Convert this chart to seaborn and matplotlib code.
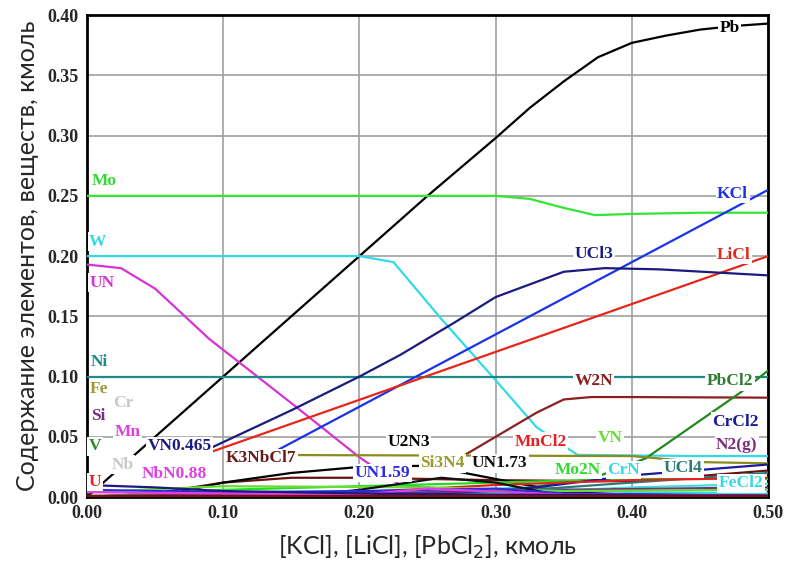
import numpy as np
import pandas as pd
import matplotlib
matplotlib.use("Agg")
import matplotlib.pyplot as plt
import seaborn as sns

# main curves (x in kmol of KCl/LiCl/PbCl2, y in kmol)
pb_x = [0.0, 0.05, 0.10, 0.15, 0.20, 0.25, 0.30, 0.325, 0.35, 0.375, 0.40, 0.425, 0.45, 0.475, 0.50]
pb_y = [0.0, 0.05, 0.10, 0.15, 0.20, 0.25, 0.298, 0.323, 0.345, 0.365, 0.377, 0.383, 0.388, 0.391, 0.393]
mo_x = [0.0, 0.30, 0.325, 0.35, 0.373, 0.40, 0.45, 0.50]
mo_y = [0.25, 0.25, 0.2475, 0.240, 0.234, 0.235, 0.236, 0.236]
w_x = [0.0, 0.20, 0.225, 0.26, 0.30, 0.33, 0.36, 0.45, 0.50]
w_y = [0.20, 0.20, 0.195, 0.148, 0.097, 0.058, 0.035, 0.034, 0.034]
un_x = [0.0, 0.025, 0.05, 0.09, 0.15, 0.20, 0.23, 0.30, 0.50]
un_y = [0.193, 0.19, 0.173, 0.131, 0.078, 0.033, 0.010, 0.003, 0.002]
ni_x = [0.0, 0.50]
ni_y = [0.10, 0.10]
kcl_x = [0.12, 0.50]
kcl_y = [0.027, 0.255]
licl_x = [0.09, 0.50]
licl_y = [0.037, 0.200]
ucl3_x = [0.08, 0.15, 0.20, 0.23, 0.27, 0.30, 0.35, 0.38, 0.42, 0.50]
ucl3_y = [0.035, 0.072, 0.100, 0.118, 0.145, 0.166, 0.187, 0.190, 0.189, 0.184]
w2n_x = [0.27, 0.30, 0.33, 0.35, 0.37, 0.40, 0.50]
w2n_y = [0.030, 0.050, 0.070, 0.081, 0.083, 0.083, 0.0825]
pbcl2_x = [0.20, 0.30, 0.37, 0.41, 0.48, 0.50]
pbcl2_y = [0.0, 0.004, 0.015, 0.032, 0.087, 0.105]

# minor species near the bottom
k3nbcl7_x = [0.0, 0.05, 0.10, 0.15, 0.20, 0.30, 0.40, 0.50]
k3nbcl7_y = [0.0, 0.003, 0.012, 0.016, 0.016, 0.014, 0.013, 0.022]
u2n3_x = [0.05, 0.10, 0.15, 0.20, 0.25, 0.30, 0.35, 0.40, 0.50]
u2n3_y = [0.0, 0.012, 0.020, 0.025, 0.026, 0.015, 0.004, 0.002, 0.001]
si3n4_x = [0.11, 0.40, 0.45, 0.50]
si3n4_y = [0.035, 0.034, 0.029, 0.028]
mo2n_x = [0.0, 0.10, 0.20, 0.30, 0.40, 0.50]
mo2n_y = [0.0, 0.006, 0.009, 0.012, 0.015, 0.015]
crn_x = [0.0, 0.15, 0.25, 0.32, 0.40, 0.50]
crn_y = [0.0, 0.002, 0.004, 0.008, 0.004, 0.003]
ucl4_x = [0.0, 0.20, 0.30, 0.40, 0.50]
ucl4_y = [0.0, 0.001, 0.004, 0.012, 0.020]
fecl2_x = [0.0, 0.20, 0.30, 0.40, 0.50]
fecl2_y = [0.0, 0.001, 0.003, 0.008, 0.011]
crcl2_x = [0.0, 0.25, 0.33, 0.40, 0.50]
crcl2_y = [0.0, 0.002, 0.008, 0.018, 0.027]
n2g_x = [0.0, 0.20, 0.35, 0.50]
n2g_y = [0.001, 0.003, 0.006, 0.008]
mncl2_x = [0.10, 0.20, 0.30, 0.40, 0.50]
mncl2_y = [0.0, 0.004, 0.010, 0.014, 0.016]
vn_x = [0.0, 0.10, 0.25, 0.35, 0.50]
vn_y = [0.004, 0.009, 0.008, 0.005, 0.006]
un173_x = [0.15, 0.20, 0.26, 0.30, 0.34, 0.40, 0.50]
un173_y = [0.0, 0.006, 0.016, 0.012, 0.003, 0.001, 0.001]
un159_x = [0.0, 0.10, 0.20, 0.30, 0.35, 0.50]
un159_y = [0.006, 0.004, 0.005, 0.007, 0.003, 0.001]
nbn088_x = [0.0, 0.10, 0.20, 0.25, 0.35, 0.50]
nbn088_y = [0.004, 0.003, 0.002, 0.007, 0.002, 0.001]
vn0465_x = [0.0, 0.05, 0.10, 0.20, 0.30, 0.50]
vn0465_y = [0.010, 0.008, 0.005, 0.003, 0.002, 0.001]
u_x = [0.0, 0.50]
u_y = [0.001, 0.001]

series = [
    (pb_x, pb_y, "#000000"), (mo_x, mo_y, "#33e633"), (w_x, w_y, "#33d9e6"),
    (un_x, un_y, "#d633d6"), (ni_x, ni_y, "#1f8a8a"), (kcl_x, kcl_y, "#1a33e6"),
    (licl_x, licl_y, "#e6261a"), (ucl3_x, ucl3_y, "#1a1a80"), (w2n_x, w2n_y, "#8a2020"),
    (pbcl2_x, pbcl2_y, "#1f8a1f"),
    (k3nbcl7_x, k3nbcl7_y, "#6b1010"), (u2n3_x, u2n3_y, "#000000"), (si3n4_x, si3n4_y, "#8c8c1e"),
    (mo2n_x, mo2n_y, "#22dd22"), (crn_x, crn_y, "#33d9e6"), (ucl4_x, ucl4_y, "#2a7a7a"),
    (fecl2_x, fecl2_y, "#40e0e0"), (crcl2_x, crcl2_y, "#1a1a9a"), (n2g_x, n2g_y, "#7b2d7b"),
    (mncl2_x, mncl2_y, "#e62020"), (vn_x, vn_y, "#66dd33"), (un173_x, un173_y, "#111111"),
    (un159_x, un159_y, "#2b2be0"), (nbn088_x, nbn088_y, "#e040e0"), (vn0465_x, vn0465_y, "#1a1a80"),
    (u_x, u_y, "#7a1010"),
]

# text labels: (name, x, y, colour)
labels = [
    ("Pb", 0.472, 0.389, "#000000"), ("KCl", 0.474, 0.2517, "#1a33e6"),
    ("UCl3", 0.372, 0.2017, "#1a1a80"), ("LiCl", 0.475, 0.201, "#e6261a"),
    ("Mo", 0.013, 0.262, "#33d933"), ("W", 0.008, 0.212, "#33d9e6"),
    ("UN", 0.011, 0.178, "#d633d6"), ("Ni", 0.009, 0.112, "#1f8a8a"),
    ("Fe", 0.009, 0.090, "#9a9a30"), ("Cr", 0.027, 0.078, "#c8c8c8"),
    ("Si", 0.008, 0.0675, "#7b2d7b"), ("Mn", 0.030, 0.054, "#e040e0"),
    ("V", 0.006, 0.042, "#2e8a2e"), ("Nb", 0.026, 0.027, "#c8c8c8"),
    ("U", 0.006, 0.0125, "#e62020"),
    ("VN0.465", 0.068, 0.042, "#1a1a80"), ("NbN0.88", 0.064, 0.019, "#e040e0"),
    ("K3NbCl7", 0.128, 0.032, "#6b1a1a"), ("U2N3", 0.236, 0.046, "#000000"),
    ("UN1.59", 0.217, 0.020, "#2b2be0"), ("Si3N4", 0.261, 0.028, "#9a9a30"),
    ("UN1.73", 0.303, 0.028, "#111111"), ("MnCl2", 0.333, 0.046, "#e62020"),
    ("W2N", 0.372, 0.096, "#8a2020"), ("PbCl2", 0.472, 0.096, "#2e7d2e"),
    ("CrCl2", 0.476, 0.0625, "#1a1a9a"), ("VN", 0.384, 0.049, "#66dd33"),
    ("N2(g)", 0.477, 0.0435, "#7b2d7b"), ("Mo2N", 0.360, 0.0225, "#33d933"),
    ("CrN", 0.394, 0.0225, "#33d9e6"), ("UCl4", 0.4375, 0.024, "#2a7a7a"),
    ("FeCl2", 0.480, 0.0115, "#33d9e6"),
]

sns.set_style("white")
fig = plt.figure(figsize=(7.87, 5.61), dpi=100)
ax = fig.add_axes([0.1105, 0.114, 0.8655, 0.859])

for xs, ys, c in series:
    sns.lineplot(x=xs, y=ys, color=c, lw=1.6, ax=ax, zorder=3)

for name, lx, ly, c in labels:
    ax.text(lx, ly, name, color=c, fontsize=12.5, fontweight="bold",
            family="Liberation Serif", ha="center", va="center", zorder=5,
            bbox=dict(facecolor="white", edgecolor="none", pad=1.0))

ax.set_xlim(0, 0.5)
ax.set_ylim(0, 0.40)
ax.set_xticks(np.arange(0, 0.51, 0.1))
ax.set_yticks(np.arange(0, 0.401, 0.05))
ax.set_xticklabels([f"{v:.2f}" for v in np.arange(0, 0.51, 0.1)])
ax.set_yticklabels([f"{v:.2f}" for v in np.arange(0, 0.401, 0.05)])
for t in ax.get_xticklabels() + ax.get_yticklabels():
    t.set_family("Liberation Serif")
    t.set_fontweight("bold")
    t.set_fontsize(13)
ax.tick_params(length=0, pad=6)
ax.grid(True, color="#a0a0a0", lw=1.2, zorder=0)
ax.set_axisbelow(True)
for sp in ax.spines.values():
    sp.set_color("black")
    sp.set_linewidth(2)

ax.set_xlabel("[KCl], [LiCl], [PbCl$_2$], кмоль", family="Lato", fontsize=18, labelpad=8)
ax.set_ylabel("Содержание элементов, веществ, кмоль", family="Lato", fontsize=18, labelpad=6)

fig.savefig("out.png", dpi=100)
